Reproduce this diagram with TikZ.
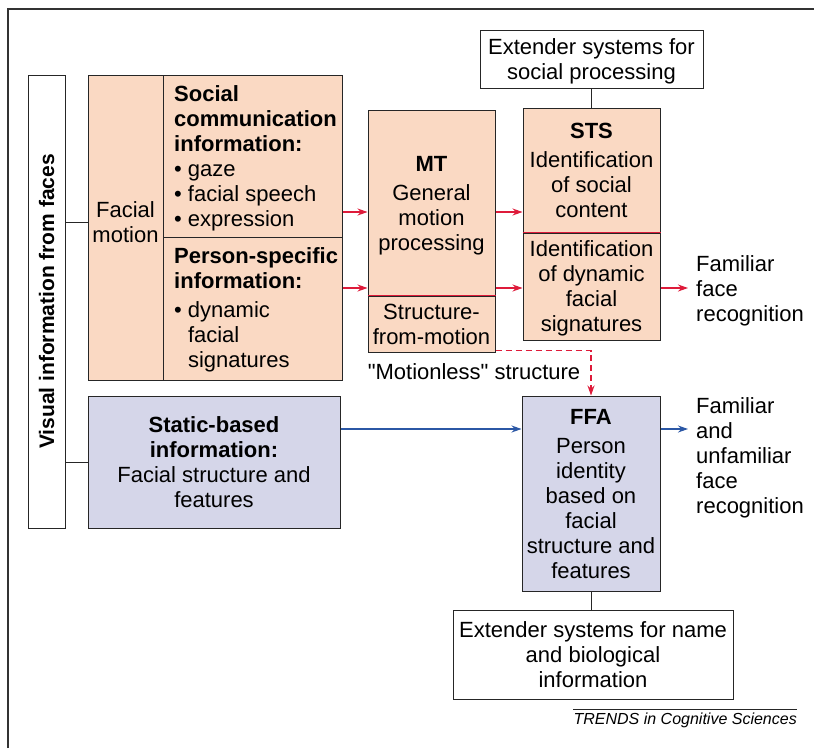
\documentclass[tikz,border=0pt]{standalone}
\usepackage{fontspec}
\setmainfont{Liberation Sans}
\usetikzlibrary{arrows.meta}

\definecolor{peach}{RGB}{250,217,195}
\definecolor{lavender}{RGB}{213,214,233}
\definecolor{linkred}{RGB}{222,27,58}
\definecolor{linkblue}{RGB}{43,87,165}

\tikzset{
  box/.style={draw=black!85,line width=1pt,align=center,inner sep=0pt,text depth=0pt},
  lefttxt/.style={anchor=north west,align=left,inner sep=0pt},
  divline/.style={draw=linkred,line width=1pt},
  redarr/.style={draw=linkred,line width=1.1pt,-{Stealth[length=10pt,width=7pt]}},
  bluearr/.style={draw=linkblue,line width=1.1pt,-{Stealth[length=10pt,width=7pt]}},
  plain/.style={draw=black!85,line width=1pt}
}

\begin{document}
\begin{tikzpicture}[x=1pt,y=-1pt,font=\fontsize{22}{25}\selectfont]
\useasboundingbox (0,0) rectangle (814,748);
\draw[line width=1.3pt,black!80] (8,748) -- (8,9) -- (814,9);

\node[box,rotate=90,minimum width=453,minimum height=37,font=\bfseries\fontsize{21}{25}\selectfont] (vis) at (46.5,301.5) {Visual information from faces};

\node[box,fill=peach,minimum width=75,minimum height=305] (fmot) at (125.5,227.5) {};
\node[align=center,inner sep=0pt] (fmottxt) at (125.5,222) {Facial\\motion};
\node[box,fill=peach,minimum width=179,minimum height=162] (soc) at (252.5,156) {};
\node[box,fill=peach,minimum width=179,minimum height=143] (pers) at (252.5,308.5) {};
\node[lefttxt] (soctxt) at (174,85) {\textbf{Social}\\\textbf{communication}\\\textbf{information:}\\\textbullet\ gaze\\\textbullet\ facial speech\\\textbullet\ expression};
\node[lefttxt] (perstxt) at (174,247) {\textbf{Person-specific}\\\textbf{information:}\\[4pt]\textbullet\ dynamic\\\phantom{\textbullet\ }facial\\\phantom{\textbullet\ }signatures};

\node[box,fill=lavender,minimum width=252,minimum height=132] (stat) at (214,462) {\textbf{Static-based}\\\textbf{information:}\\Facial structure and\\features};

\node[box,fill=peach,minimum width=127,minimum height=186] (mt) at (431.5,203) {\textbf{MT}\\[4pt]General\\motion\\processing};
\node[box,fill=peach,minimum width=127,minimum height=56] (sfm) at (431.5,324) {Structure-\\from-motion};
\draw[divline] (sfm.north west) -- (sfm.north east);

\node[box,fill=peach,minimum width=137,minimum height=125] (sts) at (591.5,170.5) {\textbf{STS}\\[4pt]Identification\\of social\\content};
\node[box,fill=peach,minimum width=137,minimum height=107] (stsdyn) at (591.5,286.5) {Identification\\of dynamic\\facial\\signatures};
\draw[divline] (stsdyn.north west) -- (stsdyn.north east);

\node[box,fill=lavender,minimum width=138,minimum height=195] (ffa) at (591,493.5) {\textbf{FFA}\\[4pt]Person\\identity\\based on\\facial\\structure and\\features};

\node[box,minimum width=223,minimum height=58] (extsoc) at (591.5,59) {Extender systems for\\social processing};
\node[box,minimum width=280,minimum height=89] (extname) at (593,654.5) {Extender systems for name\\and biological\\information};

\node[lefttxt,anchor=west] (famrec) at (696,291) {Familiar\\face\\recognition};
\node[lefttxt,anchor=west] (allrec) at (696,458) {Familiar\\and\\unfamiliar\\face\\recognition};
\node[inner sep=0pt] (motless) at (474,372) {\textquotedbl Motionless\textquotedbl\ structure};

\node[anchor=north east,inner sep=0pt,font=\itshape\fontsize{16}{18}\selectfont] (src) at (797,713) {TRENDS in Cognitive Sciences};
\draw[plain,line width=0.8pt] ([yshift=4pt]src.north west) -- ([yshift=4pt]src.north east);

\coordinate (upper) at (0,212);
\coordinate (lower) at (0,288);
\coordinate (static) at (0,429);

\draw[plain] (vis.south |- fmottxt) -- (fmot.west |- fmottxt);
\draw[plain] (vis.south |- stat) -- (stat.west);
\draw[plain] (extsoc.south) -- (sts.north);
\draw[plain] (ffa.south) -- (ffa.south |- extname.north);

\draw[redarr] (soc.east |- upper) -- (mt.west |- upper);
\draw[redarr] (pers.east |- lower) -- (mt.west |- lower);
\draw[redarr] (mt.east |- upper) -- (sts.west |- upper);
\draw[redarr] (mt.east |- lower) -- (stsdyn.west |- lower);
\draw[redarr] (stsdyn.east |- lower) -- ([xshift=-8pt]famrec.west |- lower);
\draw[redarr,dash pattern=on 6pt off 4pt] ([yshift=2pt]sfm.south east) -| (ffa.north);
\draw[bluearr] (stat.east |- static) -- (ffa.west |- static);
\draw[bluearr] (ffa.east |- static) -- ([xshift=-8pt]allrec.west |- static);
\end{tikzpicture}
\end{document}
